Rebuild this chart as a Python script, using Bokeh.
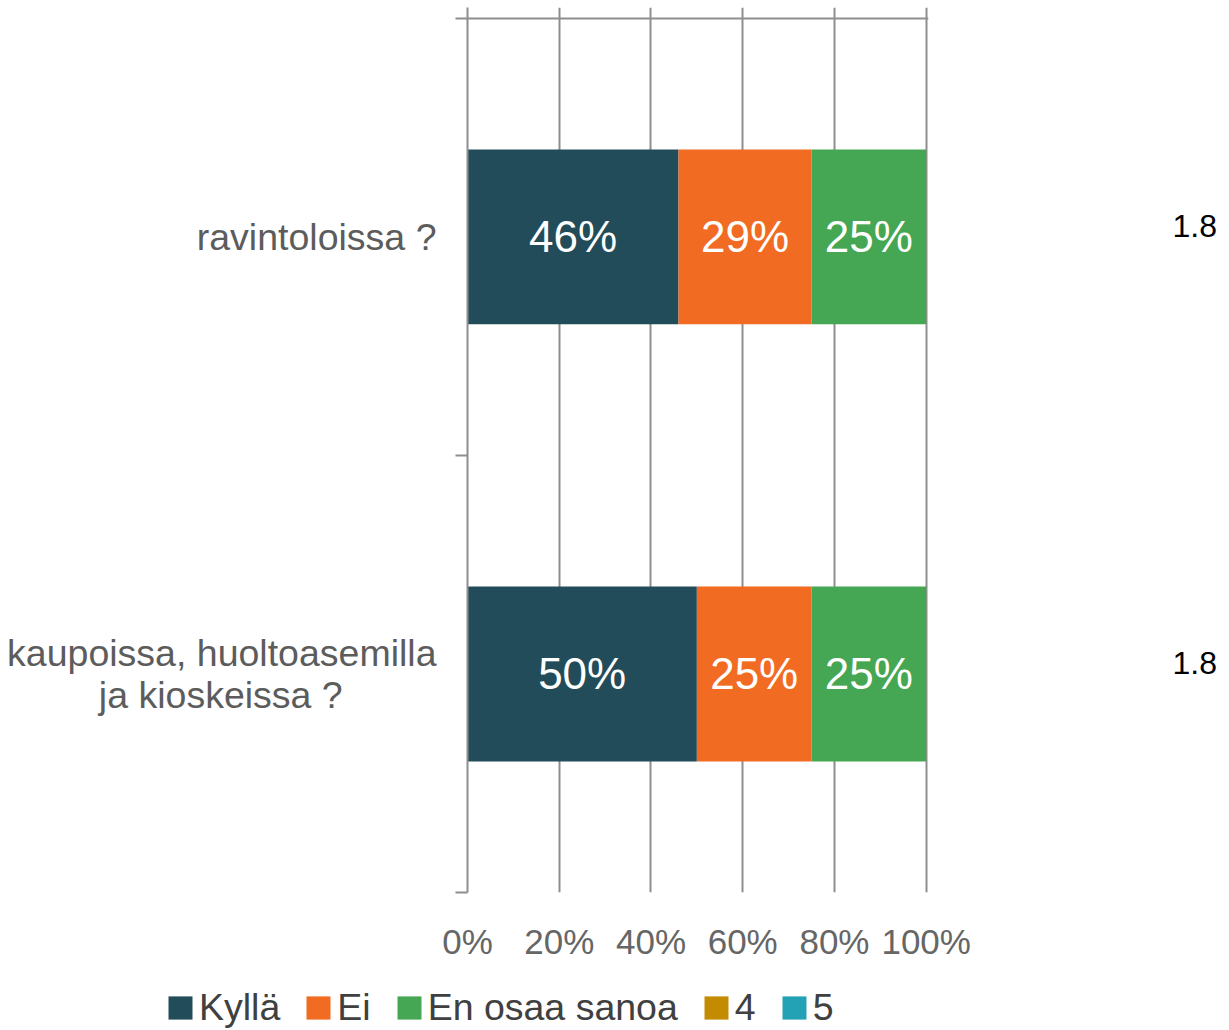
from bokeh.plotting import figure
from bokeh.models import (Range1d, FixedTicker, PrintfTickFormatter, Legend, LegendItem,
                          LabelSet, ColumnDataSource, Span, LinearAxis)
from bokeh.core.properties import value
from bokeh.embed import file_html
from bokeh.resources import INLINE

# ---------------- data ----------------
categories = ["ravintoloissa ?", "kaupoissa, huoltoasemilla\nja kioskeissa ?"]
series_names = ["Kyllä", "Ei", "En osaa sanoa", "4", "5"]
kylla = [46, 50]
ei = [29, 25]
en_osaa = [25, 25]
s4 = [0, 0]
s5 = [0, 0]
means = ["1.8", "1.8"]
x_ticks = [0, 20, 40, 60, 80, 100]
colors = ["#234c5a", "#f26b23", "#45a653", "#c38b00", "#23a1b5"]

FONT = "Liberation Sans"
GRID = "#8e8e8e"
NBSP = "\u00a0"

n = len(categories)
ypos = [i + 0.5 for i in range(n)]
series = [kylla, ei, en_osaa, s4, s5]
keys = ["s%d" % i for i in range(len(series))]

src = ColumnDataSource(dict(y=ypos, **{k: v for k, v in zip(keys, series)}))

W_TOTAL = 1225
H_MAIN = 964
H_LEG = 66

p = figure(width=W_TOTAL, height=H_MAIN,
           x_range=Range1d(0, 100.5), y_range=Range1d(n, -0.025),
           output_backend="svg", toolbar_location=None,
           min_border_left=467, min_border_right=297,
           min_border_top=7, min_border_bottom=H_MAIN - 892)
p.outline_line_color = None
p.background_fill_color = "white"

p.hbar_stack(keys, y="y", height=0.4, color=colors, line_color=None, source=src)

# bar value labels
lx, ly, lt = [], [], []
for ci in range(n):
    cum = 0
    for s in series:
        v = s[ci]
        if v > 0:
            lx.append(cum + v / 2)
            ly.append(ypos[ci])
            lt.append("%d%%" % v)
        cum += v
p.add_layout(LabelSet(x="x", y="y", text="t", source=ColumnDataSource(dict(x=lx, y=ly, t=lt)),
                      text_align="center", text_baseline="middle", text_color="white",
                      text_font=value(FONT), text_font_size="44px"))

# grid
p.ygrid.grid_line_color = None
p.xgrid.ticker = FixedTicker(ticks=x_ticks)
p.xgrid.grid_line_color = GRID
p.xgrid.grid_line_width = 2

# x axis
xa = p.xaxis[0]
xa.ticker = FixedTicker(ticks=x_ticks)
xa.formatter = PrintfTickFormatter(format="%d%%")
xa.axis_line_color = None
xa.major_tick_line_color = None
xa.minor_tick_line_color = None
xa.major_label_standoff = 23
xa.major_label_text_font = FONT
xa.major_label_text_font_size = "35px"
xa.major_label_text_color = "#666666"

# y axis (category labels, lines centred within each label)
ARIAL_W = {'a': .556, 'b': .556, 'c': .5, 'd': .556, 'e': .556, 'f': .278, 'g': .556, 'h': .556,
           'i': .222, 'j': .222, 'k': .5, 'l': .222, 'm': .833, 'n': .556, 'o': .556, 'p': .556,
           'q': .556, 'r': .333, 's': .5, 't': .278, 'u': .556, 'v': .5, 'w': .722, 'x': .5,
           'y': .5, 'z': .5, ' ': .278, ',': .278, '?': .556}


def text_w(s):
    return sum(ARIAL_W.get(ch, .556) for ch in s)


def centre_lines(label):
    lines = label.split("\n")
    if len(lines) == 1:
        return label
    longest = max(text_w(l) for l in lines)
    return "\n".join(l + NBSP * int(round((longest - text_w(l)) / 2 / .278)) for l in lines)


ya = p.yaxis[0]
ya.ticker = FixedTicker(ticks=ypos, minor_ticks=list(range(n + 1)))
ya.major_label_overrides = {y: centre_lines(c) for y, c in zip(ypos, categories)}
ya.axis_line_color = GRID
ya.axis_line_width = 2
ya.major_tick_out = 0
ya.major_tick_in = 0
ya.major_tick_line_color = None
ya.minor_tick_out = 12
ya.minor_tick_in = 0
ya.minor_tick_line_color = GRID
ya.minor_tick_line_width = 2
ya.major_label_standoff = 19
ya.major_label_text_font = FONT
ya.major_label_text_font_size = "37.5px"
ya.major_label_text_line_height = 1.0
ya.major_label_text_color = "#5c5c5c"

# right axis carrying the mean values
mean_ticks = [y - 0.025 for y in ypos]
ra = LinearAxis(ticker=FixedTicker(ticks=mean_ticks, minor_ticks=[]),
                major_label_overrides={y: m for y, m in zip(mean_ticks, means)})
ra.axis_line_color = None
ra.major_tick_line_color = None
ra.minor_tick_line_color = None
ra.major_label_standoff = 238
ra.major_label_text_font = FONT
ra.major_label_text_font_size = "32px"
ra.major_label_text_color = "black"
p.add_layout(ra, "right")

# top value-axis line
p.add_layout(Span(location=0, dimension="width", line_color=GRID, line_width=2))

# ---------------- legend strip (separate root, so its frame spans the full width) ----------------
pl = figure(width=W_TOTAL, height=H_LEG, x_range=Range1d(-10, -9), y_range=Range1d(0, 2),
            output_backend="svg", toolbar_location=None,
            x_axis_location=None, y_axis_location=None,
            min_border_left=0, min_border_right=0, min_border_top=0, min_border_bottom=0)
pl.outline_line_color = None
pl.grid.visible = False
leg_renderers = pl.hbar_stack(keys, y="y", height=0.4, color=colors, line_color=None, source=src)

legend = Legend(items=[LegendItem(label=nm, renderers=[r]) for nm, r in zip(series_names, leg_renderers)],
                orientation="horizontal", location=(165, 1.5),
                label_text_font=FONT, label_text_font_size="37.5px", label_text_color="#404040",
                glyph_width=30, glyph_height=29, label_standoff=4, spacing=23,
                padding=0, margin=0, border_line_color=None, background_fill_alpha=0)
pl.add_layout(legend)

open("out.html", "w").write(file_html([p, pl], INLINE))
